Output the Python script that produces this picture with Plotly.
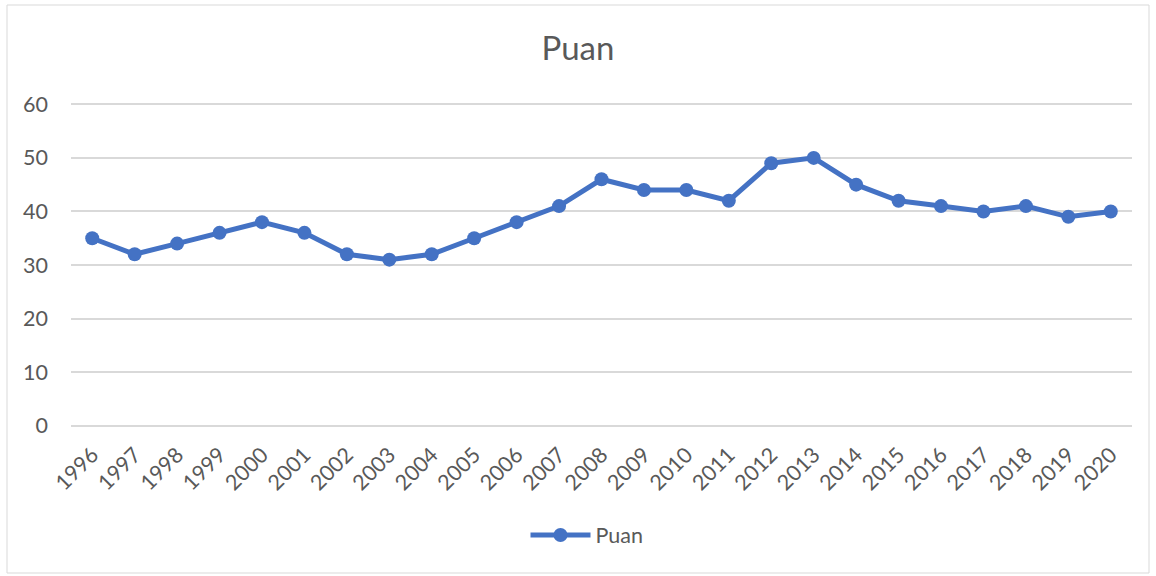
import plotly.graph_objects as go

years = [str(y) for y in range(1996, 2021)]
puan = [35, 32, 34, 36, 38, 36, 32, 31, 32, 35, 38, 41, 46, 44, 44, 42,
        49, 50, 45, 42, 41, 40, 41, 39, 40]
y_ticks = [0, 10, 20, 30, 40, 50, 60]

BLUE = "#4472C4"
TEXT = "#595959"
GRID = "#D9D9D9"
FONT = "Lato, 'Open Sans', sans-serif"
TICK_SIZE = 21.5

fig = go.Figure()
fig.add_trace(go.Scatter(
    x=years, y=puan, name="Puan", mode="lines+markers",
    line=dict(color=BLUE, width=5),
    marker=dict(color=BLUE, size=14),
))

W, H = 1156, 576
PAD = 0.25  # small headroom so the 0 and 60 gridlines are drawn
unit = (426 - 104) / 60
L, R = 71, 24
T = int(round(104 - PAD * unit))
B = int(round(H - 426 - PAD * unit))
pw, ph = W - L - R, H - T - B

def px_x(v):
    return (v - L) / pw

def px_y(v):
    return (H - B - v) / ph

fig.add_shape(type="rect", xref="paper", yref="paper",
              x0=px_x(7), x1=px_x(1149), y0=px_y(573), y1=px_y(5),
              line=dict(color="#D9D9D9", width=1), fillcolor="rgba(0,0,0,0)",
              layer="below")

fig.update_layout(
    width=W, height=H,
    margin=dict(l=L, r=R, t=T, b=B),
    paper_bgcolor="white", plot_bgcolor="white",
    font=dict(family=FONT, color=TEXT, size=TICK_SIZE),
    title=dict(text="Puan", x=0.5, xanchor="center", y=1 - 48 / H,
               yanchor="middle", yref="container",
               font=dict(size=33, color=TEXT, family=FONT)),
    showlegend=True,
    legend=dict(orientation="h", x=px_x(587), xanchor="center",
                y=px_y(535), yanchor="middle", itemwidth=60,
                font=dict(size=TICK_SIZE, color=TEXT)),
    xaxis=dict(type="category", range=[-0.5, 24.5], tickangle=-45,
               showgrid=False, zeroline=False, showline=False,
               ticks="", ticklabelstandoff=10,
               tickfont=dict(size=TICK_SIZE, color=TEXT)),
    yaxis=dict(range=[-PAD, 60 + PAD], tickvals=y_ticks, showgrid=True,
               gridcolor=GRID, gridwidth=1.5, zeroline=False,
               showline=False, ticks="", ticklabelstandoff=22,
               tickfont=dict(size=TICK_SIZE, color=TEXT)),
)

fig.write_html("out.html")
